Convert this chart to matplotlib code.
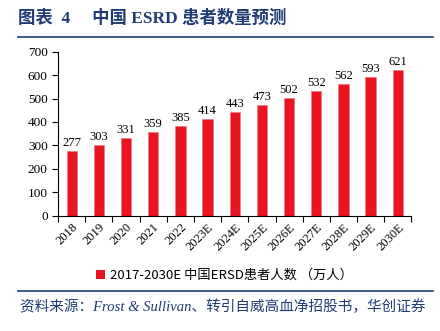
"""China ESRD patient count forecast bar chart."""

import matplotlib
matplotlib.use("Agg")
import matplotlib.pyplot as plt
from matplotlib.lines import Line2D
from matplotlib.patches import Patch

plt.rcParams.update({
    "font.family": ["Liberation Serif", "Noto Sans CJK SC"],
    "font.size": 9,
})

years = ['2018', '2019', '2020', '2021', '2022', '2023E', '2024E',
         '2025E', '2026E', '2027E', '2028E', '2029E', '2030E']
patients = [277, 303, 331, 359, 385, 414, 443, 473, 502, 532, 562, 593, 621]
yticks = [0, 100, 200, 300, 400, 500, 600, 700]

title = "图表  4     中国 ESRD 患者数量预测"
legend_label = "2017-2030E 中国ERSD患者人数 （万人）"
source = "资料来源：Frost & Sullivan、转引自威高血净招股书，华创证券"

red = '#E8141F'
navy = '#1F3C74'

fig = plt.figure(figsize=(4.4, 3.31), dpi=100)
ax = fig.add_axes([0.132, 0.348, 0.803, 0.496])

x = range(len(years))
bars = ax.bar(x, patients, width=0.38, color=red, edgecolor='#F07A80', linewidth=0.5)
for xi, v in zip(x, patients):
    ax.text(xi, v + 8, str(v), ha='center', va='bottom', fontsize=9)

ax.set_xlim(-0.5, len(years) - 0.5)
ax.set_ylim(0, 700)
ax.set_yticks(yticks)
ax.set_xticks([i - 0.5 for i in range(len(years) + 1)], minor=False)
ax.set_xticklabels([])
ax.set_xticks(list(x), minor=True)
ax.set_xticklabels(years, minor=True, rotation=45, ha='right',
                   rotation_mode='anchor', fontsize=9)
ax.tick_params(axis='x', which='minor', length=0, pad=4)
ax.tick_params(axis='x', which='major', length=4, width=0.8)
ax.tick_params(axis='y', length=4, width=0.8, labelsize=9.5)
ax.spines[['top', 'right']].set_visible(False)
for s in ['left', 'bottom']:
    ax.spines[s].set_linewidth(0.8)

handle = Patch(facecolor=red, edgecolor='none')
fig.legend([handle], [legend_label], loc='center', bbox_to_anchor=(0.51, 0.168),
           frameon=False, handlelength=0.7, handleheight=0.7, handletextpad=0.4,
           prop={'family': ['Noto Sans CJK SC'], 'size': 9.5})

fig.text(0.04, 0.945, title, fontsize=12.5, fontweight='bold', color=navy,
         va='center', family=['Liberation Serif', 'Noto Sans CJK SC'])
fig.add_artist(Line2D([0.041, 0.985], [0.888, 0.888], color=navy, linewidth=1.2))
fig.add_artist(Line2D([0.041, 0.985], [0.121, 0.121], color=navy, linewidth=1.2))
fig.text(0.045, 0.072, source, fontsize=10.5, style='italic', color=navy,
         va='center', family=['Liberation Serif', 'Noto Sans CJK SC'])

fig.savefig("out.png", dpi=100)
